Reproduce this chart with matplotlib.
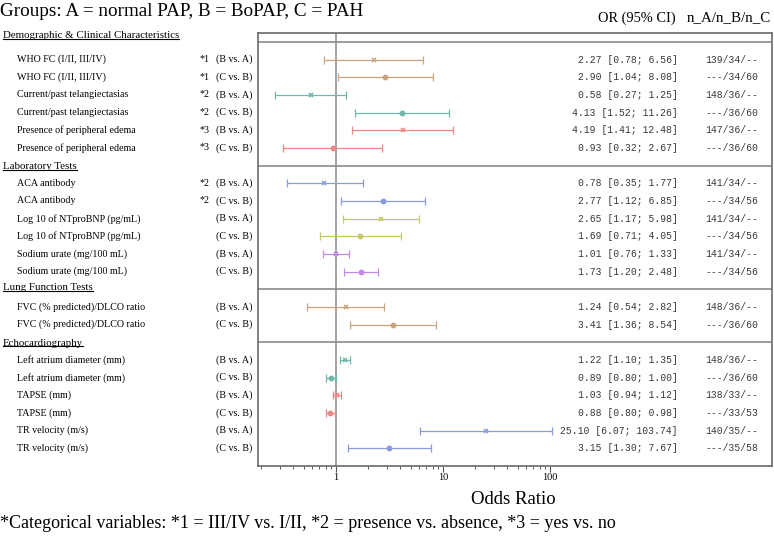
import numpy as np
import matplotlib
matplotlib.use("Agg")
import matplotlib.pyplot as plt
from matplotlib.transforms import blended_transform_factory
from matplotlib.lines import Line2D

# ---- data ----
labels = [
    "WHO FC (I/II, III/IV)", "WHO FC (I/II, III/IV)",
    "Current/past telangiectasias", "Current/past telangiectasias",
    "Presence of peripheral edema", "Presence of peripheral edema",
    "ACA antibody", "ACA antibody",
    "Log 10 of NTproBNP (pg/mL)", "Log 10 of NTproBNP (pg/mL)",
    "Sodium urate (mg/100 mL)", "Sodium urate (mg/100 mL)",
    "FVC (% predicted)/DLCO ratio", "FVC (% predicted)/DLCO ratio",
    "Left atrium diameter (mm)", "Left atrium diameter (mm)",
    "TAPSE (mm)", "TAPSE (mm)",
    "TR velocity (m/s)", "TR velocity (m/s)",
]
notes = ["*1", "*1", "*2", "*2", "*3", "*3", "*2", "*2"] + [""] * 12
comparisons = ["(B vs. A)", "(C vs. B)"] * 10
odds = [2.27, 2.90, 0.58, 4.13, 4.19, 0.93, 0.78, 2.77, 2.65, 1.69,
        1.01, 1.73, 1.24, 3.41, 1.22, 0.89, 1.03, 0.88, 25.10, 3.15]
ci_low = [0.78, 1.04, 0.27, 1.52, 1.41, 0.32, 0.35, 1.12, 1.17, 0.71,
          0.76, 1.20, 0.54, 1.36, 1.10, 0.80, 0.94, 0.80, 6.07, 1.30]
ci_high = [6.56, 8.08, 1.25, 11.26, 12.48, 2.67, 1.77, 6.85, 5.98, 4.05,
           1.33, 2.48, 2.82, 8.54, 1.35, 1.00, 1.12, 0.98, 103.74, 7.67]
counts = ["139/34/--", "---/34/60", "148/36/--", "---/36/60", "147/36/--",
          "---/36/60", "141/34/--", "---/34/56", "141/34/--", "---/34/56",
          "141/34/--", "---/34/56", "148/36/--", "---/36/60", "148/36/--",
          "---/36/60", "138/33/--", "---/33/53", "140/35/--", "---/35/58"]
sections = ["Demographic & Clinical Characteristics", "Laboratory Tests",
            "Lung Function Tests", "Echocardiography"]
section_sizes = [6, 6, 2, 6]

pair_colors = ["#c9a47e", "#6fb8ab", "#e98a88", "#8a9be0", "#c4c866", "#c28ae2",
               "#c9a47e", "#6fb8ab", "#e98a88", "#8a9be0"]

# row positions: one blank row per section header
ypos = []
breaks = []
y = -1
for n in section_sizes:
    breaks.append(y)
    ypos.extend(range(y + 1, y + 1 + n))
    y = y + 1 + n
ymax = y

serif = "Liberation Serif"
mono = "Liberation Mono"

fig = plt.figure(figsize=(7.74, 5.41), dpi=100)
ax = fig.add_axes([258 / 774, 1 - 466 / 541, 514 / 774, 433 / 541])

lo_lim = 10 ** ((258 - 336) / 107)
hi_lim = 10 ** ((772 - 336) / 107)
ax.set_xscale("log")
ax.set_xlim(lo_lim, hi_lim)
ax.set_ylim(ymax, -1.5)

ax.axvline(1, color="#8a8a8a", lw=1.1, zorder=1)
for b in breaks:
    ax.axhline(b, color="#8a8a8a", lw=1.2, zorder=1)

for i in range(len(odds)):
    c = pair_colors[i // 2]
    err = [[odds[i] - ci_low[i]], [ci_high[i] - odds[i]]]
    ax.errorbar(odds[i], ypos[i], xerr=err, fmt="none", ecolor=c,
                elinewidth=0.9, capsize=3, capthick=0.9, zorder=2)
    if i % 2 == 0:
        ax.plot(odds[i], ypos[i], marker="x", ms=3.5, mew=1.2, color=c, zorder=3)
    else:
        ax.plot(odds[i], ypos[i], marker="o", ms=3.2, color=c, zorder=3)

# ticks
ax.set_xticks([1, 10, 100])
ax.set_xticklabels(["1", "10", "100"])
minors = [m * d for d in (0.1, 1, 10) for m in range(2, 10)]
ax.set_xticks(minors, minor=True)
ax.xaxis.set_minor_formatter(plt.NullFormatter())
ax.tick_params(axis="x", which="major", length=4, width=0.8, color="#555",
               labelsize=7.5, pad=1)
ax.tick_params(axis="x", which="minor", length=2.5, width=0.7, color="#555")
for lab in ax.get_xticklabels():
    lab.set_fontfamily(serif)
ax.set_yticks([])
for s in ax.spines.values():
    s.set_color("#6a6a6a")
    s.set_linewidth(1.2)

# right-hand columns inside the box
tr_ax = blended_transform_factory(ax.transAxes, ax.transData)
for i in range(len(odds)):
    txt = "%.2f [%.2f; %.2f]" % (odds[i], ci_low[i], ci_high[i])
    ax.text((678 - 258) / 514, ypos[i], txt, transform=tr_ax, ha="right",
            va="center", family=mono, fontsize=7, color="#3a3a3a")
    ax.text((705 - 258) / 514, ypos[i], counts[i], transform=tr_ax, ha="left",
            va="center", family=mono, fontsize=7, color="#3a3a3a")

# left-hand labels
tr_fig = blended_transform_factory(fig.transFigure, ax.transData)
for i in range(len(labels)):
    fig.text(17 / 774, ypos[i], labels[i], transform=tr_fig, ha="left",
             va="center", family=serif, fontsize=7.2)
    if notes[i]:
        fig.text(200 / 774, ypos[i], notes[i], transform=tr_fig, ha="left",
                 va="center", family=serif, fontsize=7.2)
    fig.text(252 / 774, ypos[i], comparisons[i], transform=tr_fig, ha="right",
             va="center", family=serif, fontsize=7.2)

header_offsets = [-0.35, 0.05, -0.1, 0.05]
head_texts = []
for b, name, off in zip(breaks, sections, header_offsets):
    t = fig.text(3 / 774, b + off, name, transform=tr_fig, ha="left",
                 va="center", family=serif, fontsize=7.8)
    head_texts.append(t)

fig.text(0.0, 1 - 11 / 541, "Groups: A = normal PAP, B = BoPAP, C = PAH",
         ha="left", va="center", family=serif, fontsize=13.8)
fig.text(637 / 774, 1 - 18 / 541, "OR (95% CI)", ha="center", va="center",
         family=serif, fontsize=10.4)
fig.text(729 / 774, 1 - 18 / 541, "n_A/n_B/n_C", ha="center", va="center",
         family=serif, fontsize=10.8)
fig.text(513 / 774, 1 - 500 / 541, "Odds Ratio", ha="center", va="center",
         family=serif, fontsize=13.5)
fig.text(0.0, 1 - 523 / 541,
         "*Categorical variables: *1 = III/IV vs. I/II, *2 = presence vs. absence, *3 = yes vs. no",
         ha="left", va="center", family=serif, fontsize=13)

# underline the section headers
fig.canvas.draw()
inv = fig.transFigure.inverted()
for t in head_texts:
    bb = t.get_window_extent().transformed(inv)
    yl = bb.y0 + 1.2 / 541
    fig.add_artist(Line2D([bb.x0, bb.x1], [yl, yl], transform=fig.transFigure,
                          color="black", lw=0.8))

fig.savefig("out.png", dpi=100)
